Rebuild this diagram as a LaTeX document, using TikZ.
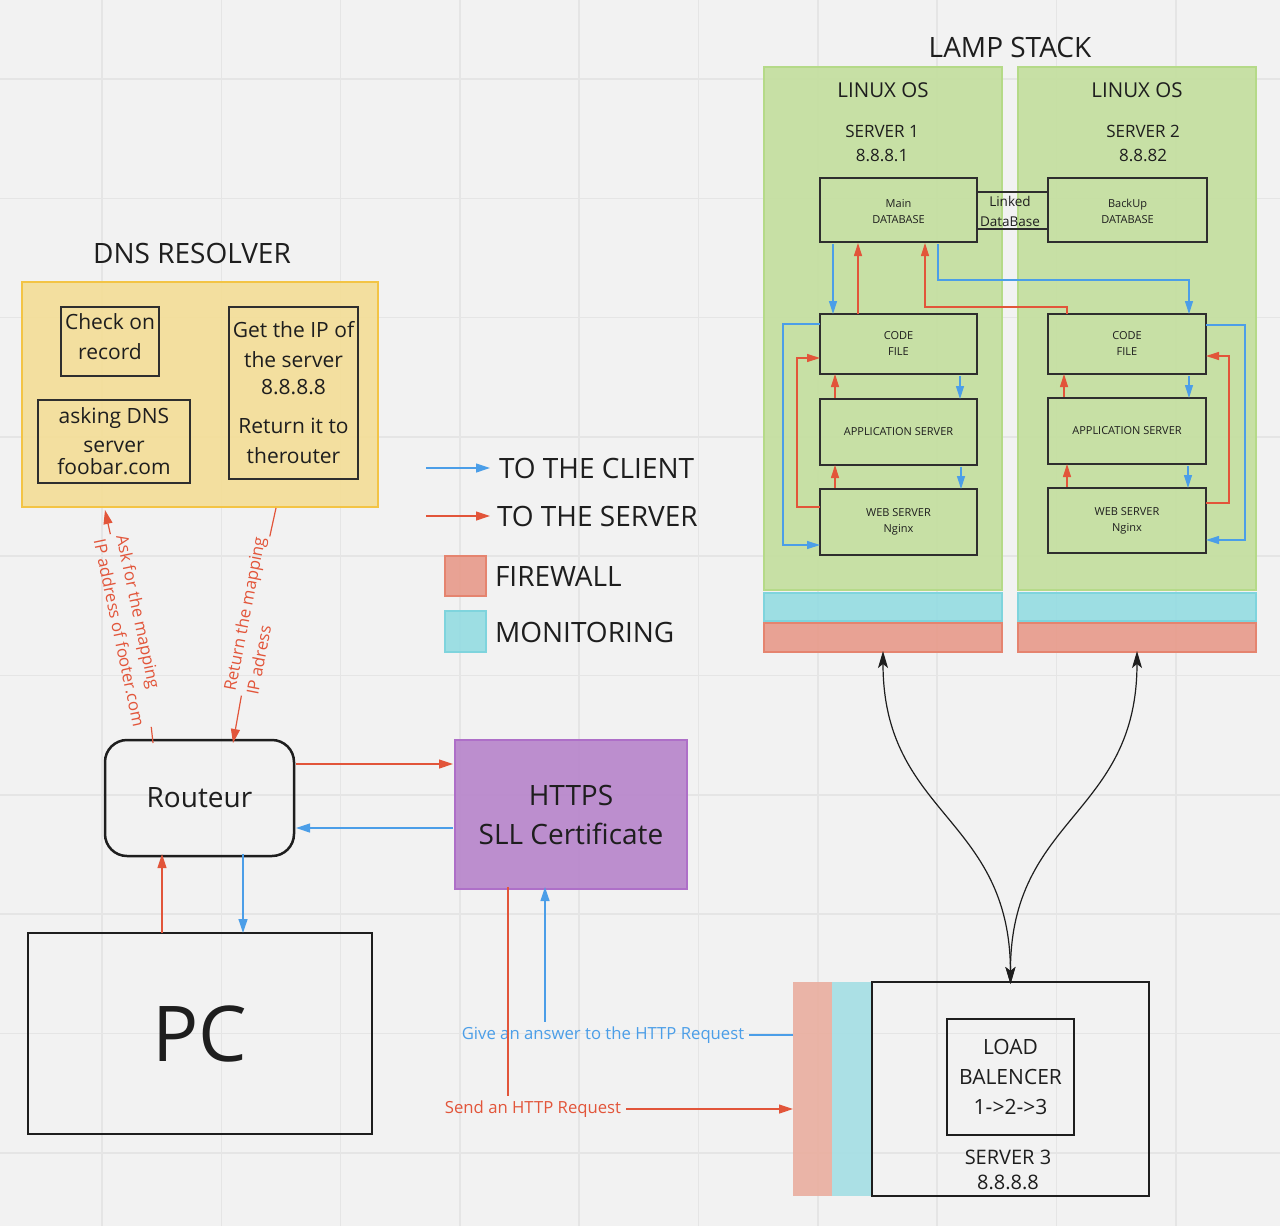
\documentclass[tikz,border=0pt]{standalone}
\usepackage{fontspec}
\setmainfont{Open Sans}
\usetikzlibrary{arrows.meta}
\definecolor{bgc}{HTML}{F2F2F2}
\definecolor{gridc}{HTML}{E5E5E5}
\definecolor{grnF}{HTML}{C3DF9D}
\definecolor{grnB}{HTML}{B5DA88}
\definecolor{cyF}{HTML}{94DCE2}
\definecolor{cyB}{HTML}{7FD4DD}
\definecolor{fwF}{HTML}{E89A8A}
\definecolor{fwB}{HTML}{E5846F}
\definecolor{fwL}{HTML}{EAAE9F}
\definecolor{cyL}{HTML}{A4DFE4}
\definecolor{ylF}{HTML}{F4DE96}
\definecolor{ylB}{HTML}{F3C445}
\definecolor{ppF}{HTML}{B784CB}
\definecolor{ppB}{HTML}{AE6FC8}
\definecolor{redA}{HTML}{E2553A}
\definecolor{bluA}{HTML}{4B9EE8}
\definecolor{ink}{HTML}{1E1E1E}
\definecolor{boxB}{HTML}{2E2E2E}
\tikzset{
  f28/.style={font=\fontsize{28pt}{34pt}\selectfont},
  f26/.style={font=\fontsize{28pt}{39pt}\selectfont},
  f21/.style={font=\fontsize{21pt}{30pt}\selectfont},
  f20/.style={font=\fontsize{20pt}{25pt}\selectfont},
  f17/.style={font=\fontsize{17pt}{24pt}\selectfont},
  f16/.style={font=\fontsize{16.7pt}{23pt}\selectfont},
  f13/.style={font=\fontsize{13.5pt}{20pt}\selectfont},
  f11/.style={font=\fontsize{11pt}{16pt}\selectfont},
  txt/.style={text=ink, inner sep=0pt, outer sep=0pt, align=center},
  boxn/.style={draw, inner sep=0pt, outer sep=0pt, align=center, text=ink},
  filled/.style={boxn, fill opacity=0.9, text opacity=1},
  panel/.style={filled, draw=grnB, fill=grnF, line width=1.5pt},
  monbar/.style={filled, draw=cyB, fill=cyF, line width=1.5pt},
  fwbar/.style={filled, draw=fwB, fill=fwF, line width=1.5pt},
  sbox/.style={boxn, draw=boxB, line width=1.4pt, f11},
  dbox/.style={boxn, draw=boxB, line width=1.3pt, f21},
  arrS/.style={-{Triangle[length=13pt,width=8pt]}, line width=1.2pt},
  arrB/.style={-{Triangle[length=14pt,width=9pt]}, line width=1.2pt},
  rs/.style={arrS, draw=redA},
  bs/.style={arrS, draw=bluA},
  rb/.style={arrB, draw=redA},
  bb/.style={arrB, draw=bluA},
  rl/.style={line width=1.2pt, draw=redA},
  bl/.style={line width=1.2pt, draw=bluA},
  blk/.style={{Stealth[length=17pt,width=10pt,inset=4pt]}-{Stealth[length=17pt,width=10pt,inset=4pt]}, line width=1.2pt, draw=ink},
}
\begin{document}
\begin{tikzpicture}[x=1pt,y=-1pt]
\useasboundingbox (0,0) rectangle (1280,1226);
\fill[bgc] (0,0) rectangle (1280,1226);
% grid
\foreach \k in {0,...,9} {
  \draw[gridc, line width=1.6pt] ({102+119.3*\k},0) -- ({102+119.3*\k},1226);
  \draw[gridc, line width=1.6pt] (0,{79+119.3*\k}) -- (1280,{79+119.3*\k});
}

% ---------------- LAMP STACK ----------------
\node[txt, f28] (lamptitle) at (1010,47) {LAMP STACK};
\node[panel, minimum width=238pt, minimum height=523pt] (s1) at (883,328.5) {};
\node[panel, minimum width=238pt, minimum height=523pt] (s2) at (1137,328.5) {};
\node[monbar, minimum width=238pt, minimum height=28pt] (mon1) at (883,607) {};
\node[monbar, minimum width=238pt, minimum height=28pt] (mon2) at (1137,607) {};
\node[fwbar, minimum width=238pt, minimum height=29pt] (fw1) at (883,637.5) {};
\node[fwbar, minimum width=238pt, minimum height=29pt] (fw2) at (1137,637.5) {};

\node[txt, font=\fontsize{20.5pt}{25pt}\selectfont] (linux1) at (883,90) {LINUX OS};
\node[txt, font=\fontsize{20.5pt}{25pt}\selectfont] (linux2) at (1137,90) {LINUX OS};
\node[txt, f17] (srv1) at (882,143) {SERVER 1\\8.8.8.1};
\node[txt, f17] (srv2) at (1143,143) {SERVER 2\\8.8.82};

\node[sbox, minimum width=157pt, minimum height=64pt] (db1) at (898.5,210) {};
\node[txt, f11] (db1txt) at (898.5,211.5) {Main\\DATABASE};
\node[sbox, minimum width=159pt, minimum height=64pt] (db2) at (1127.5,210) {};
\node[txt, f11] (db2txt) at (1127.5,211.5) {BackUp\\DATABASE};
\node[txt, f13] (linklbl) at (1010,211) {Linked\\DataBase};
\draw[boxB, line width=1.2pt] (db1.east |- 0,192) -- (db2.west |- 0,192);
\draw[boxB, line width=1.2pt] (db1.east |- 0,229) -- (db2.west |- 0,229);

\node[sbox, minimum width=157pt, minimum height=60pt] (code1) at (898.5,344) {CODE\\FILE};
\node[sbox, minimum width=157pt, minimum height=66pt] (app1) at (898.5,432) {APPLICATION SERVER};
\node[sbox, minimum width=157pt, minimum height=66pt] (web1) at (898.5,522) {WEB SERVER\\Nginx};
\node[sbox, minimum width=158pt, minimum height=60pt] (code2) at (1127,344) {CODE\\FILE};
\node[sbox, minimum width=158pt, minimum height=66pt] (app2) at (1127,431) {APPLICATION SERVER};
\node[sbox, minimum width=158pt, minimum height=65pt] (web2) at (1127,520.5) {WEB SERVER\\Nginx};

% server 1 arrows
\draw[bs] ([yshift=-2pt]db1.south -| 833,0) -- (code1.north -| 833,0);
\draw[rs] (code1.north -| 858,0) -- ([yshift=-1pt]db1.south -| 858,0);
\draw[rs] (code2.north -| 1067,0) -- (1067,307) -- (925,307) -- ([yshift=-1pt]db1.south -| 925,0);
\draw[bs] ([yshift=-2pt]db1.south -| 938,0) -- (938,280) -- (1189,280) -- (code2.north -| 1189,0);
\draw[bs] (code1.west |- 0,324) -- (783,324) -- (783,545) -- (web1.west |- 0,545);
\draw[rs] (web1.west |- 0,507) -- (797,507) -- (797,358) -- (code1.west |- 0,358);
\draw[rs] ([yshift=1pt]app1.north -| 835,0) -- (code1.south -| 835,0);
\draw[bs] ([yshift=-2pt]code1.south -| 960,0) -- (app1.north -| 960,0);
\draw[rs] ([yshift=1pt]web1.north -| 835,0) -- (app1.south -| 835,0);
\draw[bs] ([yshift=-2pt]app1.south -| 961,0) -- (web1.north -| 961,0);
% server 2 arrows
\draw[bs] (code2.east |- 0,325) -- (1245,325) -- (1245,540) -- (web2.east |- 0,540);
\draw[rs] (web2.east |- 0,503) -- (1229,503) -- (1229,356) -- (code2.east |- 0,356);
\draw[rs] ([yshift=1pt]app2.north -| 1064,0) -- (code2.south -| 1064,0);
\draw[bs] ([yshift=-2pt]code2.south -| 1189,0) -- (app2.north -| 1189,0);
\draw[rs] ([yshift=1pt]web2.north -| 1067,0) -- (app2.south -| 1067,0);
\draw[bs] ([yshift=-2pt]app2.south -| 1188,0) -- (web2.north -| 1188,0);

% ---------------- SERVER 3 ----------------
\node[filled, draw=none, fill=fwL, minimum width=39pt, minimum height=214pt] (fw3) at (812.5,1089) {};
\node[filled, draw=none, fill=cyL, minimum width=40pt, minimum height=214pt] (mon3) at (852,1089) {};
\node[boxn, draw=ink, line width=2.4pt, minimum width=277pt, minimum height=214pt] (srv3) at (1010.5,1089) {};
\node[boxn, draw=ink, line width=2.4pt, minimum width=127pt, minimum height=116pt, f21] (lb) at (1010.5,1077) {LOAD\\BALENCER\\1->2->3};
\node[txt, f20] (srv3lbl) at (1008,1170) {SERVER 3\\8.8.8.8};

\draw[blk] ([yshift=1pt]fw1.south) .. controls (883,816) and (1010,816) .. ([yshift=-2pt]srv3.north);
\draw[blk] ([yshift=1pt]fw2.south) .. controls (1137,816) and (1010,816) .. ([yshift=-2pt]srv3.north);

% ---------------- DNS RESOLVER ----------------
\node[txt, f28] (dnstitle) at (192,253) {DNS RESOLVER};
\node[filled, draw=ylB, fill=ylF, line width=2pt, minimum width=356pt, minimum height=225pt] (dns) at (200,394.5) {};
\node[dbox, minimum width=98pt, minimum height=69pt] (chk) at (110,341.5) {};
\node[txt, f21] (chktxt) at (110,337) {Check on\\record};
\node[dbox, minimum width=152pt, minimum height=83pt] (ask) at (114,441.5) {asking DNS\\[-1pt]server\\[-8pt]foobar.com};
\node[dbox, minimum width=129pt, minimum height=172pt] (getip) at (293.5,393) {Get the IP of\\the server\\[-3pt]8.8.8.8\\[9pt]Return it to\\therouter};

% ---------------- Routeur / HTTPS / PC ----------------
\node[boxn, draw=ink, line width=2.5pt, rounded corners=22pt, minimum width=189pt, minimum height=116pt, f26] (routeur) at (199.5,798) {Routeur};
\node[filled, draw=ppB, fill=ppF, line width=2pt, minimum width=232pt, minimum height=149pt, f26] (https) at (571,814.5) {HTTPS\\SLL Certificate};
\node[boxn, draw=ink, line width=2.5pt, minimum width=344pt, minimum height=201pt, font=\fontsize{77pt}{80pt}\selectfont] (pc) at (200,1033.5) {PC};

\draw[rb] ([xshift=2pt]routeur.east |- 0,764) -- ([xshift=-2pt]https.west |- 0,764);
\draw[bb] ([xshift=-2pt]https.west |- 0,828) -- ([xshift=2pt]routeur.east |- 0,828);
\draw[rb] (pc.north -| 162,0) -- ([yshift=2pt]routeur.south -| 162,0);
\draw[bb] ([yshift=2pt]routeur.south -| 243,0) -- (pc.north -| 243,0);

% rotated DNS labels
\node[txt, f16, text=redA, align=left, rotate=-78] (asklbl) at (130.8,630.5) {Ask for the mapping\\IP address of footer.com};
\node[txt, f16, text=redA, align=left, rotate=79] (retlbl) at (255.5,616) {Return the mapping\\IP adress};
\draw[rl] ([yshift=-3pt]routeur.north -| 153,0) -- ([shift={(0.6pt,-3pt)}]asklbl.east);
\draw[rb] ([shift={(-0.6pt,3pt)}]asklbl.west) -- ([yshift=-3pt]dns.south -| 105,0);
\draw[rl] ([yshift=-1pt]dns.south -| 276,0) -- ([shift={(-0.6pt,3pt)}]retlbl.east);
\draw[rb] ([shift={(0.8pt,-3pt)}]retlbl.west) -- ([yshift=-3pt]routeur.north -| 233,0);

% HTTP request labels
\node[txt, f16, text=redA, inner sep=5pt] (sendlbl) at (533,1109) {Send an HTTP Request};
\node[txt, f16, text=bluA, inner sep=5pt] (givelbl) at (603,1035) {Give an answer to the HTTP Request};
\draw[rl] ([yshift=2pt]https.south -| 508,0) -- (sendlbl.north -| 508,0);
\draw[rb] (sendlbl.east) -- (fw3.west |- sendlbl.east);
\draw[bl] (fw3.west |- givelbl.east) -- (givelbl.east);
\draw[bb] (givelbl.north -| 545,0) -- ([yshift=2pt]https.south -| 545,0);

% ---------------- Legend ----------------
\coordinate (lc0) at (426,468);
\coordinate (ls0) at (426,516);
\node[txt, f28, anchor=west, inner sep=9pt] (legclient) at (490,468) {TO THE CLIENT};
\node[txt, f28, anchor=west, inner sep=7pt] (legserver) at (490,516) {TO THE SERVER};
\draw[bb] (lc0) -- (legclient.west);
\draw[rb] (ls0) -- (legserver.west);
\node[fwbar, minimum width=41pt, minimum height=40pt] (fwleg) at (465.5,576) {};
\node[monbar, minimum width=41pt, minimum height=41pt] (monleg) at (465.5,631.5) {};
\node[txt, f28, anchor=west] (fwtxt) at (495,576) {FIREWALL};
\node[txt, f28, anchor=west] (montxt) at (495,632) {MONITORING};
\end{tikzpicture}
\end{document}
